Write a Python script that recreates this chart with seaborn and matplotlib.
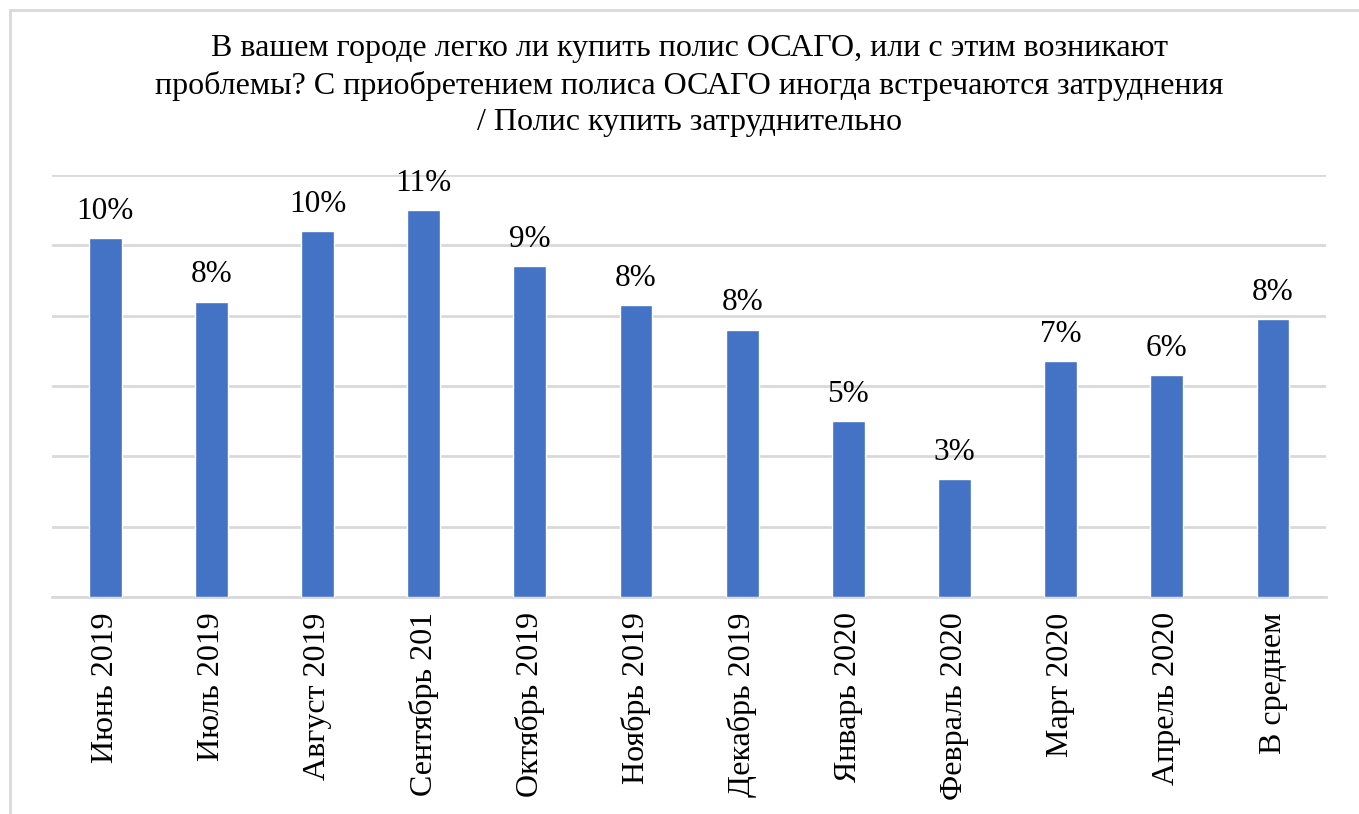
import matplotlib
matplotlib.use("Agg")
import matplotlib.pyplot as plt
import seaborn as sns
import pandas as pd

# данные опроса (доля, %)
months = ['Июнь 2019', 'Июль 2019', 'Август 2019', 'Сентябрь 201', 'Октябрь 2019',
          'Ноябрь 2019', 'Декабрь 2019', 'Январь 2020', 'Февраль 2020', 'Март 2020',
          'Апрель 2020', 'В среднем']
values = [10.2, 8.4, 10.4, 11.0, 9.4, 8.3, 7.6, 5.0, 3.35, 6.7, 6.3, 7.9]
labels = ['10%', '8%', '10%', '11%', '9%', '8%', '8%', '5%', '3%', '7%', '6%', '8%']

title = ('В вашем городе легко ли купить полис ОСАГО, или с этим возникают\n'
         'проблемы? С приобретением полиса ОСАГО иногда встречаются затруднения\n'
         '/ Полис купить затруднительно')

df = pd.DataFrame({'month': months, 'value': values})

sns.set_style('white')
plt.rcParams['font.family'] = ['Liberation Serif', 'DejaVu Serif']
plt.rcParams['text.color'] = 'black'
plt.rcParams['xtick.color'] = 'black'

fig = plt.figure(figsize=(13.59, 8.14), dpi=100)
ax = fig.add_axes([0.0383, 0.2666, 0.9375, 0.5184])

sns.barplot(data=df, x='month', y='value', color='#4472C4', width=0.31,
            saturation=1, ax=ax, zorder=3)

ax.set_ylim(0, 12)
ax.set_xlim(-0.5, len(months) - 0.5)
ax.set_yticks(range(0, 13, 2))
ax.set_yticklabels([])
ax.tick_params(axis='y', length=0)
ax.tick_params(axis='x', length=0, pad=11)
ax.yaxis.grid(True, color='#d9d9d9', linewidth=2, zorder=0)
for s in ['top', 'right', 'left']:
    ax.spines[s].set_visible(False)
ax.spines['bottom'].set_color('#d9d9d9')
ax.spines['bottom'].set_linewidth(2)
ax.set_xlabel('')
ax.set_ylabel('')
ax.set_xticks(range(len(months)))
ax.set_xticklabels(months, rotation=90, fontsize=23)

for i, (v, lab) in enumerate(zip(values, labels)):
    ax.annotate(lab, (i, v), xytext=(0, 9), textcoords='offset points',
                ha='center', va='bottom', fontsize=22.5)

fig.text(0.507, 0.958, title, ha='center', va='top', fontsize=23, linespacing=1.34)

# рамка диаграммы (видны только верх и левая сторона)
fig.add_artist(plt.Line2D([10 / 1359, 1], [1 - 10 / 814, 1 - 10 / 814],
                          transform=fig.transFigure, color='#d9d9d9', linewidth=2))
fig.add_artist(plt.Line2D([10 / 1359, 10 / 1359], [0, 1 - 10 / 814],
                          transform=fig.transFigure, color='#d9d9d9', linewidth=2))

fig.savefig('out.png', dpi=100)
